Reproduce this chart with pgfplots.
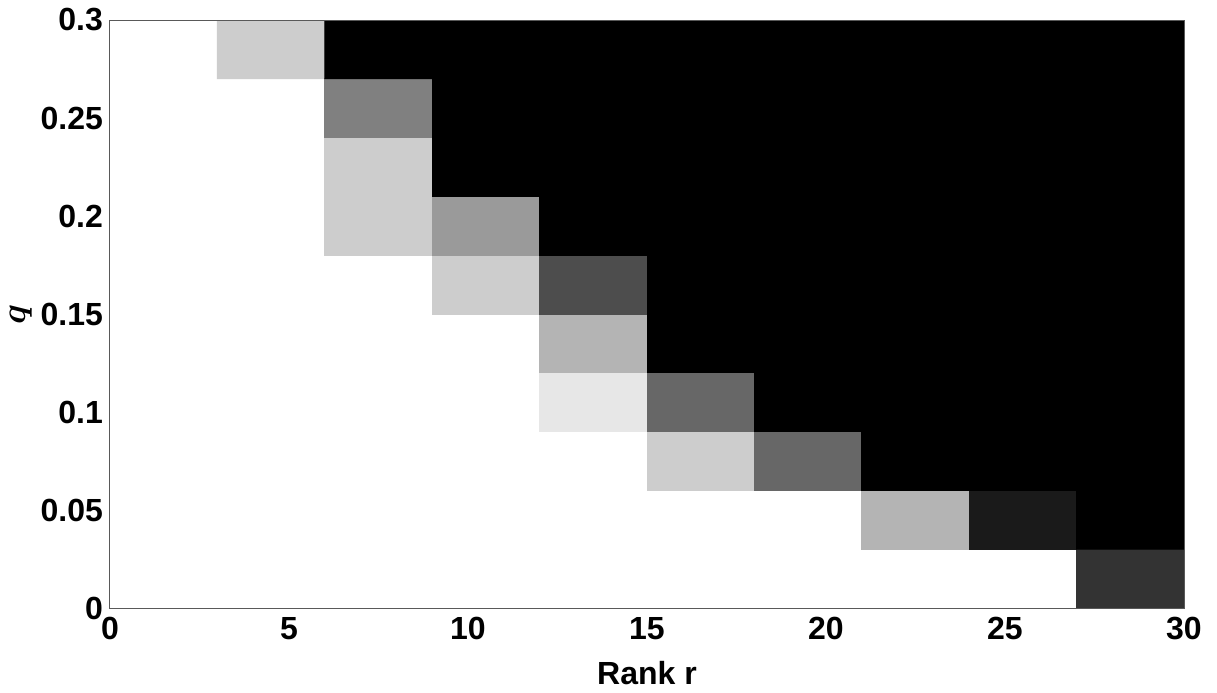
\documentclass[border=0pt]{standalone}
\usepackage{fontspec}
\setmainfont{Liberation Sans}
\usepackage{pgfplots}
\pgfplotsset{compat=1.18}

% gray level of each cell: 0 = black, 1 = white
% columns: rank 0-3, 3-6, ..., 27-30 ; rows: q 0-0.03, ..., 0.27-0.3
\pgfplotstableread{
x y c
1.5 0.015 1
4.5 0.015 1
7.5 0.015 1
10.5 0.015 1
13.5 0.015 1
16.5 0.015 1
19.5 0.015 1
22.5 0.015 1
25.5 0.015 1
28.5 0.015 0.2
1.5 0.045 1
4.5 0.045 1
7.5 0.045 1
10.5 0.045 1
13.5 0.045 1
16.5 0.045 1
19.5 0.045 1
22.5 0.045 0.7
25.5 0.045 0.1
28.5 0.045 0
1.5 0.075 1
4.5 0.075 1
7.5 0.075 1
10.5 0.075 1
13.5 0.075 1
16.5 0.075 0.8
19.5 0.075 0.4
22.5 0.075 0
25.5 0.075 0
28.5 0.075 0
1.5 0.105 1
4.5 0.105 1
7.5 0.105 1
10.5 0.105 1
13.5 0.105 0.9
16.5 0.105 0.4
19.5 0.105 0
22.5 0.105 0
25.5 0.105 0
28.5 0.105 0
1.5 0.135 1
4.5 0.135 1
7.5 0.135 1
10.5 0.135 1
13.5 0.135 0.7
16.5 0.135 0
19.5 0.135 0
22.5 0.135 0
25.5 0.135 0
28.5 0.135 0
1.5 0.165 1
4.5 0.165 1
7.5 0.165 1
10.5 0.165 0.8
13.5 0.165 0.3
16.5 0.165 0
19.5 0.165 0
22.5 0.165 0
25.5 0.165 0
28.5 0.165 0
1.5 0.195 1
4.5 0.195 1
7.5 0.195 0.8
10.5 0.195 0.6
13.5 0.195 0
16.5 0.195 0
19.5 0.195 0
22.5 0.195 0
25.5 0.195 0
28.5 0.195 0
1.5 0.225 1
4.5 0.225 1
7.5 0.225 0.8
10.5 0.225 0
13.5 0.225 0
16.5 0.225 0
19.5 0.225 0
22.5 0.225 0
25.5 0.225 0
28.5 0.225 0
1.5 0.255 1
4.5 0.255 1
7.5 0.255 0.5
10.5 0.255 0
13.5 0.255 0
16.5 0.255 0
19.5 0.255 0
22.5 0.255 0
25.5 0.255 0
28.5 0.255 0
1.5 0.285 1
4.5 0.285 0.8
7.5 0.285 0
10.5 0.285 0
13.5 0.285 0
16.5 0.285 0
19.5 0.285 0
22.5 0.285 0
25.5 0.285 0
28.5 0.285 0
}\cells

\begin{document}
\begin{tikzpicture}
\useasboundingbox (-55pt,-42pt) rectangle (553.5pt,304pt);
\begin{axis}[
    at={(0,0)}, anchor=south west,
    scale only axis,
    width=537pt,
    height=294pt,
    xmin=0, xmax=30,
    ymin=0, ymax=0.3,
    xtick={0,5,10,15,20,25,30},
    ytick={0,0.05,0.1,0.15,0.2,0.25,0.3},
    yticklabels={0,0.05,0.1,0.15,0.2,0.25,0.3},
    xticklabels={0,5,10,15,20,25,30},
    tick style={draw=none},
    ticklabel style={font=\bfseries\fontsize{16}{18}\selectfont},
    xticklabel style={yshift=-1pt},
    xlabel={Rank r},
    ylabel={$q$},
    xlabel style={font=\bfseries\fontsize{16}{18}\selectfont, yshift=-4pt},
    ylabel style={font=\boldmath\fontsize{17}{19}\selectfont, yshift=-2.5pt},
    axis line style={gray!70!black, line width=0.5pt},
    axis on top,
    colormap={bw}{gray(0cm)=(0); gray(1cm)=(1)},
    point meta min=0, point meta max=1,
]
\addplot[matrix plot*, mesh/cols=10, point meta=explicit] table[x=x, y=y, meta=c] {\cells};
\end{axis}
\end{tikzpicture}
\end{document}
